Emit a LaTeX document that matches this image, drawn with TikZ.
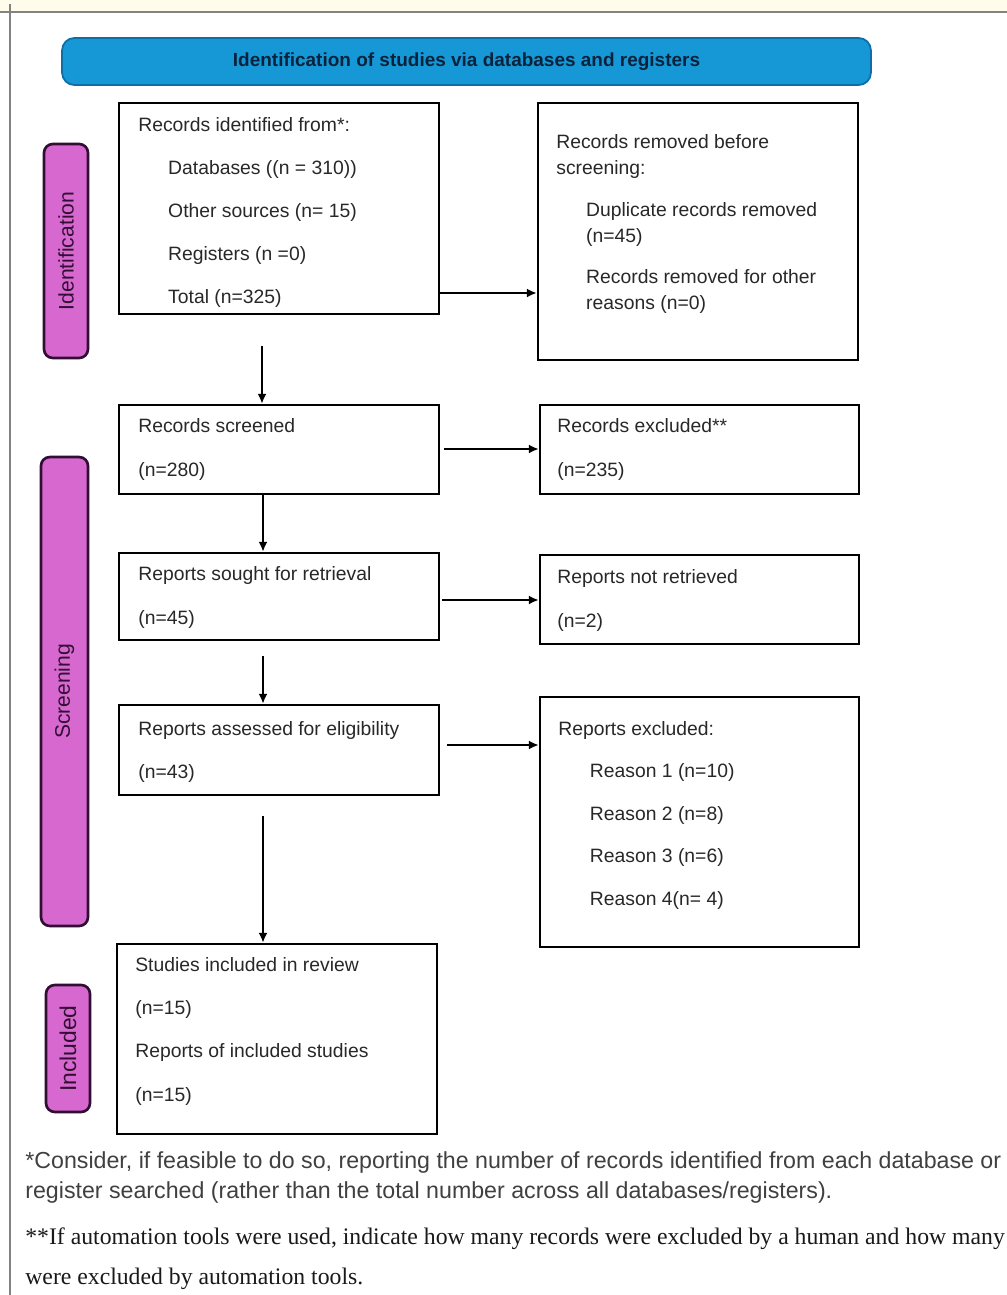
\documentclass[tikz,border=0pt]{standalone}
\usepackage{fontspec}
\setmainfont{Liberation Sans}
\newfontfamily\timesfont{Liberation Serif}
\usetikzlibrary{arrows.meta,calc}
\definecolor{bannerblue}{RGB}{22,152,214}
\definecolor{banneredge}{RGB}{14,110,165}
\definecolor{bannertext}{RGB}{10,35,60}
\definecolor{phasefill}{RGB}{214,104,208}
\definecolor{phaseedge}{RGB}{50,14,50}
\definecolor{txtgrey}{RGB}{40,40,40}
\definecolor{frameline}{RGB}{130,130,130}
\definecolor{topcream}{RGB}{255,252,236}
\begin{document}
\begin{tikzpicture}[x=0.02cm,y=-0.02cm,
  box/.style={draw=black, line width=1.6pt, fill=white, inner sep=0pt},
  txt/.style={anchor=north west, inner sep=0pt, align=left, text=txtgrey, font=\fontsize{11}{24.5}\selectfont},
  phase/.style={draw=phaseedge, line width=1.5pt, fill=phasefill, rounded corners=5pt, inner sep=0pt, text=phaseedge, rotate=90, font=\fontsize{12}{14}\selectfont},
  arr/.style={-{Latex[length=5.5pt,width=5pt]}, line width=0.9pt, black},
]
\useasboundingbox (0,0) rectangle (1007,1295);
\fill[white] (0,0) rectangle (1007,1295);
% frame
\fill[topcream] (0,0) rectangle (1007,12);
\draw[frameline, line width=1.2pt] (0,12) -- (1007,12);
\draw[frameline, line width=1pt] (10,4) -- (10,1295);

% banner
\node[draw=banneredge, line width=1pt, fill=bannerblue, rounded corners=7pt,
  minimum width=16.18cm, minimum height=0.94cm, inner sep=0pt,
  text=bannertext, font=\fontsize{10.8}{13}\selectfont\bfseries] (banner) at (466.5,61.5)
  {Identification of studies via databases and registers};

% phase labels
\node[phase, minimum width=4.28cm, minimum height=0.88cm] (pid) at (66,251) {Identification};
\node[phase, minimum width=9.38cm, minimum height=0.94cm] (pscr) at (64.5,691.5) {Screening};
\node[phase, minimum width=2.54cm, minimum height=0.88cm, font=\fontsize{13}{15}\selectfont] (pinc) at (68,1048.5) {Included};

% boxes
\node[box, minimum width=6.4cm, minimum height=4.22cm] (b1) at (279,208.5) {};
\node[box, minimum width=6.4cm, minimum height=5.14cm] (b2) at (698,231.5) {};
\node[box, minimum width=6.4cm, minimum height=1.78cm] (b3) at (279,449.5) {};
\node[box, minimum width=6.38cm, minimum height=1.78cm] (b4) at (699.5,449.5) {};
\node[box, minimum width=6.4cm, minimum height=1.74cm] (b5) at (279,596.5) {};
\node[box, minimum width=6.38cm, minimum height=1.78cm] (b6) at (699.5,599.5) {};
\node[box, minimum width=6.4cm, minimum height=1.8cm] (b7) at (279,750) {};
\node[box, minimum width=6.38cm, minimum height=5.0cm] (b8) at (699.5,822) {};
\node[box, minimum width=6.4cm, minimum height=3.8cm] (b9) at (277,1039) {};

% box texts
\node[txt] (t1) at (138,117) {Records identified from*:\\
\hspace*{17pt}Databases ((n = 310))\\
\hspace*{17pt}Other sources (n= 15)\\
\hspace*{17pt}Registers (n =0)\\
\hspace*{17pt}Total (n=325)};
\node[txt, font=\fontsize{11}{14.8}\selectfont] (t2) at (556,134) {Records removed before\\
screening:\\[9pt]
\hspace*{17pt}Duplicate records removed\\
\hspace*{17pt}(n=45)\\[9pt]
\hspace*{17pt}Records removed for other\\
\hspace*{17pt}reasons (n=0)};
\node[txt, font=\fontsize{11}{25}\selectfont] (t3) at (138,418) {Records screened\\(n=280)};
\node[txt, font=\fontsize{11}{25}\selectfont] (t4) at (557,418) {Records excluded**\\(n=235)};
\node[txt, font=\fontsize{11}{25}\selectfont] (t5) at (138,566) {Reports sought for retrieval\\(n=45)};
\node[txt, font=\fontsize{11}{25}\selectfont] (t6) at (557,569) {Reports not retrieved\\(n=2)};
\node[txt] (t7) at (138,721) {Reports assessed for eligibility\\(n=43)};
\node[txt, font=\fontsize{11}{24.2}\selectfont] (t8) at (558,721) {Reports excluded:\\
\hspace*{18pt}Reason 1 (n=10)\\
\hspace*{18pt}Reason 2 (n=8)\\
\hspace*{18pt}Reason 3 (n=6)\\
\hspace*{18pt}Reason 4(n= 4)};
\node[txt, font=\fontsize{11}{24.6}\selectfont] (t9) at (135,957) {Studies included in review\\
(n=15)\\
Reports of included studies\\
(n=15)};

% horizontal arrows
\coordinate (h1) at (0,293);
\coordinate (h2) at (0,449);
\coordinate (h3) at (0,600);
\coordinate (h4) at (0,745);
\draw[arr] (b1.east |- h1) -- (b2.west |- h1);
\draw[arr, shorten <=2pt] (b3.east |- h2) -- (b4.west |- h2);
\draw[arr, shorten <=1pt] (b5.east |- h3) -- (b6.west |- h3);
\draw[arr, shorten <=4pt] (b7.east |- h4) -- (b8.west |- h4);

% vertical arrows
\coordinate (v1) at ($(b1.south)+(-17,31)$);
\draw[arr] (v1) -- (v1 |- b3.north);
\coordinate (v2) at ($(b3.south)+(-16,0)$);
\draw[arr] (v2) -- (v2 |- b5.north);
\coordinate (v3) at ($(b5.south)+(-16,15)$);
\draw[arr] (v3) -- (v3 |- b7.north);
\coordinate (v4) at ($(b7.south)+(-16,20)$);
\draw[arr] (v4) -- (v4 |- b9.north);

% footnotes
\node[anchor=north west, inner sep=0pt, align=left, text=black!75, font=\fontsize{13.2}{17}\selectfont] (fn1) at (25,1151)
{*Consider, if feasible to do so, reporting the number of records identified from each database or\\
register searched (rather than the total number across all databases/registers).};
\node[anchor=north west, inner sep=0pt, align=left, text=black!90, font=\timesfont\fontsize{13.5}{22.8}\selectfont] (fn2) at (25,1227)
{**If automation tools were used, indicate how many records were excluded by a human and how many\\
were excluded by automation tools.};
\end{tikzpicture}
\end{document}
